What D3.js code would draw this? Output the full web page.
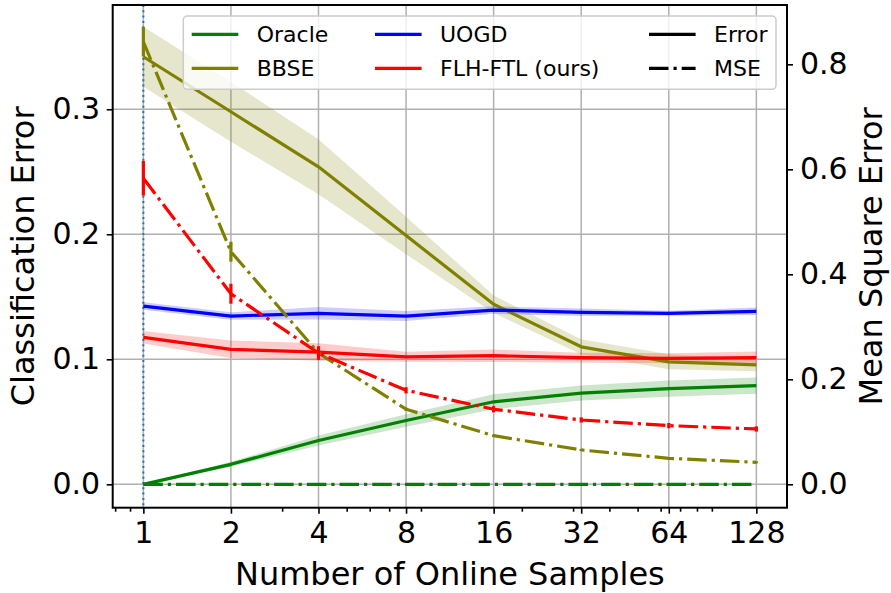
<!DOCTYPE html>
<html>
<head>
<meta charset="utf-8">
<script src="https://cdn.jsdelivr.net/npm/d3@7"></script>
<style>
  html, body { margin: 0; padding: 0; background: #fff; }
  svg { display: block; font-family: "DejaVu Sans", sans-serif; }
</style>
</head>
<body>
<svg id="chart" width="891" height="593"></svg>
<script>
// ---------- data ----------
const samples = [1, 2, 4, 8, 16, 32, 64, 128];
const xTickLabels = ["1", "2", "4", "8", "16", "32", "64", "128"];
const xMinorTicks = [0.8, 0.9, 3, 5, 6, 7, 9, 20, 30, 40, 50, 60, 70, 80, 90];
const leftTicks = [0.0, 0.1, 0.2, 0.3];
const rightTicks = [0.0, 0.2, 0.4, 0.6, 0.8];

const oracleErr    = [0.000, 0.016, 0.035, 0.051, 0.066, 0.073, 0.0765, 0.079];
const oracleErrStd = [0.000, 0.002, 0.004, 0.005, 0.006, 0.006, 0.0065, 0.0065];
const oracleMse    = [0, 0, 0, 0, 0, 0, 0, 0];

const bbseErr      = [0.342, 0.298, 0.254, 0.199, 0.144, 0.110, 0.098, 0.0955];
const bbseErrStd   = [0.024, 0.024, 0.022, 0.015, 0.007, 0.006, 0.006, 0.005];
const bbseMse      = [0.843, 0.443, 0.250, 0.143, 0.0926, 0.0654, 0.0495, 0.0419];
const bbseMseStd   = [0.028, 0.019, 0.005, 0.003, 0.002, 0.002, 0.002, 0.002];

const uogdErr      = [0.1426, 0.1346, 0.1368, 0.1346, 0.1394, 0.1376, 0.1368, 0.1384];
const uogdErrStd   = [0.003, 0.003, 0.005, 0.004, 0.003, 0.003, 0.002, 0.003];

const flhErr       = [0.1176, 0.108, 0.1058, 0.102, 0.1029, 0.1013, 0.1008, 0.1013];
const flhErrStd    = [0.005, 0.007, 0.007, 0.004, 0.005, 0.004, 0.004, 0.005];
const flhMse       = [0.583, 0.363, 0.250, 0.179, 0.143, 0.1225, 0.1117, 0.1054];
const flhMseStd    = [0.033, 0.019, 0.013, 0.006, 0.006, 0.005, 0.005, 0.005];

const methodNames  = ["Oracle", "BBSE", "UOGD", "FLH-FTL (ours)"];
const methodColors = ["#008000", "#808000", "#0000ff", "#ff0000"];
const styleNames   = ["Error", "MSE"];

// ---------- layout ----------
const L = 112.7, R = 787, T = 5, B = 507.7;
const LW = 3.2;
const DASHDOT = "19.5,5,3.2,5";

const svg = d3.select("#chart");

const x = d3.scaleLog().base(2)
  .domain([Math.pow(2, -0.35), Math.pow(2, 7.35)])
  .range([L, R]);
const yL = d3.scaleLinear().domain([-0.0187, 0.3834]).range([B, T]);
const yR = d3.scaleLinear().domain([-0.0446, 0.913]).range([B, T]);

// grid
const grid = svg.append("g");
samples.forEach(s => {
  grid.append("line").attr("x1", x(s)).attr("x2", x(s)).attr("y1", T).attr("y2", B)
    .attr("stroke", "#b0b0b0").attr("stroke-width", 1.5);
});
leftTicks.forEach(v => {
  grid.append("line").attr("x1", L).attr("x2", R).attr("y1", yL(v)).attr("y2", yL(v))
    .attr("stroke", "#b0b0b0").attr("stroke-width", 1.5);
});

// vertical dotted line at x=1
svg.append("line").attr("x1", x(1)).attr("x2", x(1)).attr("y1", T).attr("y2", B)
  .attr("stroke", "#1f77b4").attr("stroke-width", 2).attr("stroke-dasharray", "2,3.3");

const idx = d3.range(samples.length);
function band(mean, std, yS, color) {
  const area = d3.area()
    .x(i => x(samples[i]))
    .y0(i => yS(mean[i] - std[i]))
    .y1(i => yS(mean[i] + std[i]));
  svg.append("path").attr("d", area(idx)).attr("fill", color).attr("fill-opacity", 0.2).attr("stroke", "none");
}
function line(mean, yS, color, dash) {
  const ln = d3.line().x(i => x(samples[i])).y(i => yS(mean[i]));
  const p = svg.append("path").attr("d", ln(idx)).attr("fill", "none")
    .attr("stroke", color).attr("stroke-width", LW).attr("stroke-linejoin", "round");
  if (dash) p.attr("stroke-dasharray", dash);
}
function errbars(mean, std, yS, color) {
  idx.forEach(i => {
    if (std[i] <= 0) return;
    svg.append("line").attr("x1", x(samples[i])).attr("x2", x(samples[i]))
      .attr("y1", yS(mean[i] - std[i])).attr("y2", yS(mean[i] + std[i]))
      .attr("stroke", color).attr("stroke-width", LW);
  });
}

// bands
band(oracleErr, oracleErrStd, yL, methodColors[0]);
band(bbseErr, bbseErrStd, yL, methodColors[1]);
band(uogdErr, uogdErrStd, yL, methodColors[2]);
band(flhErr, flhErrStd, yL, methodColors[3]);

// error lines
line(oracleErr, yL, methodColors[0]);
line(bbseErr, yL, methodColors[1]);
line(uogdErr, yL, methodColors[2]);
line(flhErr, yL, methodColors[3]);

// MSE lines with error bars
line(oracleMse, yR, methodColors[0], DASHDOT);
errbars(bbseMse, bbseMseStd, yR, methodColors[1]);
line(bbseMse, yR, methodColors[1], DASHDOT);
errbars(flhMse, flhMseStd, yR, methodColors[3]);
line(flhMse, yR, methodColors[3], DASHDOT);

// axes
const fmt1 = d3.format(".1f");
const xAxis = svg.append("g").attr("transform", `translate(0,${B})`)
  .call(d3.axisBottom(x).tickValues(samples).tickFormat((d, i) => xTickLabels[i]).tickSize(6).tickPadding(8).tickSizeOuter(0));
const xMinor = svg.append("g").attr("transform", `translate(0,${B})`)
  .call(d3.axisBottom(x).tickValues(xMinorTicks).tickFormat("").tickSize(4).tickSizeOuter(0));
const yAxisL = svg.append("g").attr("transform", `translate(${L},0)`)
  .call(d3.axisLeft(yL).tickValues(leftTicks).tickFormat(fmt1).tickSize(6).tickPadding(6.5).tickSizeOuter(0));
const yAxisR = svg.append("g").attr("transform", `translate(${R},0)`)
  .call(d3.axisRight(yR).tickValues(rightTicks).tickFormat(fmt1).tickSize(6).tickPadding(7).tickSizeOuter(0));

[xAxis, xMinor, yAxisL, yAxisR].forEach(g => {
  g.select(".domain").remove();
  g.selectAll(".tick line").attr("stroke", "#000").attr("stroke-width", 1.6);
  g.selectAll("text").attr("font-size", 30).attr("fill", "#000")
    .attr("font-family", "DejaVu Sans, sans-serif");
});

// spines
svg.append("rect").attr("x", L).attr("y", T).attr("width", R - L).attr("height", B - T)
  .attr("fill", "none").attr("stroke", "#000").attr("stroke-width", 2);

// axis labels
svg.append("text").attr("x", (L + R) / 2).attr("y", 585).attr("text-anchor", "middle")
  .attr("font-size", 32).text("Number of Online Samples");
svg.append("text").attr("transform", `translate(34,${(T + B) / 2}) rotate(-90)`)
  .attr("text-anchor", "middle").attr("font-size", 32).text("Classification Error");
svg.append("text").attr("transform", `translate(882,${(T + B) / 2}) rotate(-90)`)
  .attr("text-anchor", "middle").attr("font-size", 32).text("Mean Square Error");

// legend
const leg = svg.append("g");
leg.append("rect").attr("x", 183.3).attr("y", 16).attr("width", 776 - 183.3).attr("height", 73.3)
  .attr("rx", 4).attr("fill", "#fff").attr("fill-opacity", 0.8).attr("stroke", "#cccccc").attr("stroke-width", 1.5);
const rowsY = [34.3, 68.3];
const colsX = [191.7, 375, 649];
const legItems = [
  { col: 0, row: 0, name: methodNames[0], color: methodColors[0] },
  { col: 0, row: 1, name: methodNames[1], color: methodColors[1] },
  { col: 1, row: 0, name: methodNames[2], color: methodColors[2] },
  { col: 1, row: 1, name: methodNames[3], color: methodColors[3] },
  { col: 2, row: 0, name: styleNames[0], color: "#000" },
  { col: 2, row: 1, name: styleNames[1], color: "#000", dash: DASHDOT }
];
legItems.forEach(it => {
  const x0 = colsX[it.col], yy = rowsY[it.row];
  const l = leg.append("line").attr("x1", x0).attr("x2", x0 + 46.6).attr("y1", yy).attr("y2", yy)
    .attr("stroke", it.color).attr("stroke-width", LW);
  if (it.dash) l.attr("stroke-dasharray", it.dash);
  leg.append("text").attr("x", x0 + 65).attr("y", yy + 7.8).attr("font-size", 22).text(it.name);
});
</script>
</body>
</html>
